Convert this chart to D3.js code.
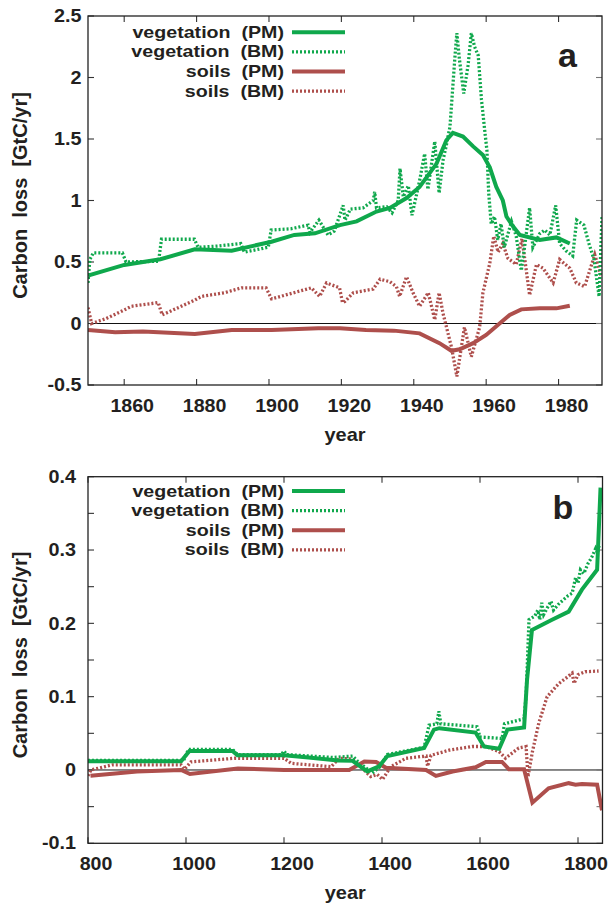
<!DOCTYPE html>
<html><head><meta charset="utf-8">
<script src="https://cdn.jsdelivr.net/npm/d3@7"></script>
<style>
html,body{margin:0;padding:0;background:#fff;}
svg{display:block;}
text{font-family:"Liberation Sans",Arial,Helvetica,sans-serif;font-weight:bold;fill:#231f20;white-space:pre;}
</style></head>
<body>
<script>
// ---------- DATA ----------
const seriesNames = ["vegetation  (PM)", "vegetation  (BM)", "soils  (PM)", "soils  (BM)"];
const panelLetters = ["a", "b"];
const yTitle = "Carbon  loss  [GtC/yr]";
const xTitle = "year";

// panel a
const aXTicks = [1860, 1880, 1900, 1920, 1940, 1960, 1980];
const aYTicks = [-0.5, 0, 0.5, 1, 1.5, 2, 2.5];
const aYLabels = ["-0.5", "0", "0.5", "1", "1.5", "2", "2.5"];
const aVegPM = [[1850,0.39],[1860,0.476],[1870,0.522],[1879.5,0.603],[1889.7,0.592],[1900.7,0.665],[1907,0.72],[1912.7,0.733],[1919.6,0.80],[1924.2,0.83],[1929.7,0.91],[1933.4,0.94],[1938,1.02],[1941.6,1.11],[1946.3,1.30],[1949,1.49],[1950.8,1.55],[1953.6,1.52],[1956.4,1.44],[1959.1,1.37],[1961,1.27],[1962.8,1.11],[1964.6,1.00],[1965.6,0.87],[1967.4,0.79],[1969.3,0.72],[1974.8,0.68],[1979.4,0.70],[1983.1,0.65]];
const aVegBM = [[1850,0.33],[1850.5,0.52],[1851.5,0.575],[1859.5,0.575],[1860.5,0.50],[1869.5,0.506],[1870.3,0.685],[1879.4,0.685],[1880.4,0.62],[1886,0.63],[1892.2,0.65],[1893.2,0.58],[1899.8,0.62],[1900.6,0.76],[1906,0.77],[1910.8,0.80],[1911.3,0.74],[1913.8,0.84],[1916.3,0.72],[1918,0.75],[1920.5,0.96],[1921,0.84],[1922.5,0.93],[1926,0.94],[1928.8,1.0],[1929.2,1.07],[1929.7,0.94],[1932.5,0.95],[1934,0.90],[1935.7,1.0],[1936.2,1.26],[1937.1,1.03],[1938.5,1.12],[1939.5,0.88],[1941.6,1.16],[1943,1.38],[1943.9,1.09],[1945.8,1.48],[1947,1.06],[1948.1,1.33],[1949,1.45],[1950,1.6],[1951.3,2.14],[1951.9,2.36],[1952.6,2.15],[1953.8,1.87],[1955,2.1],[1955.9,2.36],[1956.8,2.25],[1957.8,2.18],[1958.7,1.82],[1959.6,1.57],[1960.2,1.41],[1960.7,1.06],[1961.4,0.81],[1962.3,0.87],[1963.2,0.68],[1964.1,0.81],[1965,0.62],[1967,0.83],[1968.3,0.71],[1969.7,0.43],[1970.6,0.62],[1972,0.94],[1972.9,0.62],[1974.8,0.73],[1976.2,0.76],[1977.6,0.72],[1979.2,0.96],[1980.3,0.65],[1982.1,0.59],[1983.9,0.55],[1985,0.84],[1987,0.80],[1988.4,0.65],[1989.8,0.52],[1991.2,0.22],[1992,0.87]];
const aSoilPM = [[1850,-0.053],[1857.5,-0.072],[1865.2,-0.066],[1879.5,-0.085],[1889.7,-0.053],[1900.7,-0.053],[1913.6,-0.039],[1919.6,-0.039],[1926.8,-0.053],[1934.5,-0.058],[1941.6,-0.08],[1947.1,-0.16],[1950.4,-0.222],[1952.7,-0.21],[1956.4,-0.16],[1960,-0.093],[1963.7,0.0],[1966.5,0.069],[1969.7,0.115],[1974.8,0.123],[1979.4,0.123],[1983.1,0.145]];
const aSoilBM = [[1850,0.13],[1851,0.0],[1855,0.04],[1860,0.11],[1862,0.14],[1869.4,0.17],[1870.5,0.07],[1879.5,0.19],[1881.3,0.22],[1887.7,0.25],[1892.4,0.29],[1899.2,0.29],[1900.7,0.20],[1904.4,0.23],[1911.7,0.29],[1914,0.22],[1915.9,0.33],[1919.5,0.29],[1920.3,0.17],[1921,0.18],[1923.3,0.25],[1928.8,0.28],[1930.7,0.36],[1933.4,0.34],[1935.2,0.30],[1936.1,0.22],[1938,0.38],[1939.8,0.25],[1941.6,0.14],[1944,0.25],[1945.8,0.03],[1947,0.25],[1948.1,0.08],[1950.4,-0.19],[1951.9,-0.43],[1954,-0.03],[1955.9,-0.27],[1958.2,-0.03],[1959.1,0.25],[1961,0.49],[1962.1,0.71],[1963.3,0.58],[1964.6,0.65],[1966,0.53],[1968.3,0.48],[1969.9,0.69],[1972,0.23],[1973.9,0.48],[1975.7,0.45],[1978.5,0.33],[1980.3,0.52],[1983.1,0.45],[1984.9,0.33],[1987.2,0.30],[1990,0.56],[1991.8,0.38]];

// panel b
const bXTicks = [800, 1000, 1200, 1400, 1600, 1800];
const bYTicks = [-0.1, 0, 0.1, 0.2, 0.3, 0.4];
const bYLabels = ["-0.1", "0", "0.1", "0.2", "0.3", "0.4"];
const bYMinor = [-0.05, 0.05, 0.15, 0.25, 0.35];
const bVegPM = [[800,0.012],[990,0.012],[1007,0.026],[1095,0.026],[1105,0.02],[1200,0.02],[1250,0.017],[1310,0.013],[1340,0.0125],[1370,-0.002],[1394,0.005],[1411,0.019],[1486,0.03],[1506,0.055],[1517,0.057],[1591,0.051],[1608,0.032],[1639,0.029],[1656,0.055],[1690,0.058],[1696,0.123],[1706,0.191],[1747,0.205],[1781,0.216],[1808,0.246],[1839,0.273],[1846,0.385]];
const bVegBM = [[800,0.013],[995,0.013],[1005,0.028],[1095,0.028],[1105,0.021],[1195,0.021],[1200,0.026],[1205,0.021],[1300,0.017],[1340,0.019],[1350,0.012],[1380,-0.004],[1395,0.004],[1411,0.021],[1486,0.031],[1496,0.061],[1512,0.063],[1516,0.08],[1520,0.063],[1594,0.059],[1600,0.045],[1645,0.043],[1650,0.063],[1690,0.07],[1694,0.1],[1700,0.205],[1712,0.21],[1718,0.218],[1722,0.205],[1726,0.228],[1730,0.212],[1738,0.222],[1745,0.23],[1750,0.218],[1760,0.226],[1770,0.232],[1780,0.238],[1788,0.241],[1795,0.262],[1800,0.255],[1805,0.273],[1812,0.268],[1820,0.281],[1828,0.29],[1836,0.302],[1840,0.296],[1843,0.306]];
const bSoilPM = [[805,-0.008],[900,-0.002],[990,0.0],[1008,-0.0055],[1106,0.002],[1200,0.0],[1333,0.0],[1364,0.0114],[1388,0.011],[1408,0.003],[1490,0.0],[1510,-0.008],[1544,-0.002],[1591,0.0036],[1612,0.011],[1645,0.011],[1659,0.001],[1690,0.001],[1707,-0.0446],[1740,-0.025],[1781,-0.018],[1795,-0.02],[1808,-0.019],[1839,-0.02],[1849,-0.055]];
const bSoilBM = [[800,-0.008],[806,0.0],[850,0.007],[990,0.007],[997,0.001],[1010,0.011],[1099,0.016],[1200,0.016],[1215,0.009],[1296,0.0045],[1313,0.016],[1340,0.015],[1377,-0.009],[1390,-0.006],[1401,-0.013],[1418,0.0045],[1449,0.016],[1490,0.019],[1493,0.005],[1500,0.02],[1516,0.023],[1537,0.027],[1584,0.032],[1612,0.032],[1639,0.025],[1652,0.016],[1679,0.03],[1694,0.032],[1698,-0.009],[1707,0.025],[1720,0.064],[1737,0.1],[1761,0.118],[1775,0.125],[1788,0.132],[1792,0.118],[1800,0.13],[1815,0.134],[1842,0.135]];

// ---------- STYLE ----------
const GREEN = "#0fa84c", RED = "#ae4f4c";
const W = 609, H = 904;
const svg = d3.select("body").append("svg").attr("width", W).attr("height", H);

function txt(g, x, y, s, o) {
  o = o || {};
  return g.append("text")
    .attr("transform", `translate(${x},${y}) rotate(${o.rot || 0}) scale(${o.sx || 1},1)`)
    .attr("text-anchor", o.anchor || "middle")
    .attr("dominant-baseline", o.base || "auto")
    .style("font-size", (o.size || 18) + "px")
    .text(s);
}

function panel(cfg) {
  const x = d3.scaleLinear().domain(cfg.xDom).range([cfg.left, cfg.right]);
  const y = d3.scaleLinear().domain(cfg.yDom).range([cfg.bottom, cfg.top]);
  const g = svg.append("g");
  const cid = "clip" + cfg.letter;
  svg.append("defs").append("clipPath").attr("id", cid).append("rect")
    .attr("x", cfg.left).attr("y", cfg.top).attr("width", cfg.right - cfg.left).attr("height", cfg.bottom - cfg.top);

  // zero line
  g.append("line").attr("x1", cfg.left).attr("x2", cfg.right).attr("y1", y(0)).attr("y2", y(0))
    .attr("stroke", "#111").attr("stroke-width", 1);

  // ticks (mirrored, inward)
  const TL = 6;
  const tk = g.append("g").attr("stroke", "#333").attr("stroke-width", 1.1);
  cfg.xTicks.forEach(v => {
    tk.append("line").attr("x1", x(v)).attr("x2", x(v)).attr("y1", cfg.bottom).attr("y2", cfg.bottom - TL);
    tk.append("line").attr("x1", x(v)).attr("x2", x(v)).attr("y1", cfg.top).attr("y2", cfg.top + TL);
  });
  cfg.yTicks.concat(cfg.yMinor || []).forEach(v => {
    tk.append("line").attr("x1", cfg.left).attr("x2", cfg.left + TL).attr("y1", y(v)).attr("y2", y(v));
    tk.append("line").attr("x1", cfg.right).attr("x2", cfg.right - TL).attr("y1", y(v)).attr("y2", y(v)).attr("stroke", "#777");
  });

  // data lines
  const line = d3.line().x(d => x(d[0])).y(d => y(d[1]));
  const dg = g.append("g").attr("clip-path", `url(#${cid})`).attr("fill", "none");
  const sets = [
    {d: cfg.soilBM, c: RED, dash: true},
    {d: cfg.vegBM, c: GREEN, dash: true},
    {d: cfg.soilPM, c: RED, dash: false},
    {d: cfg.vegPM, c: GREEN, dash: false}
  ];
  sets.forEach(s => {
    dg.append("path").datum(s.d).attr("d", line)
      .attr("stroke", s.c)
      .attr("stroke-width", s.dash ? 3.3 : 4)
      .attr("stroke-dasharray", s.dash ? "2,2" : null)
      .attr("stroke-linejoin", "miter").attr("stroke-miterlimit", 4);
  });

  // frame
  g.append("rect").attr("x", cfg.left).attr("y", cfg.top)
    .attr("width", cfg.right - cfg.left).attr("height", cfg.bottom - cfg.top)
    .attr("fill", "none").attr("stroke", "#222").attr("stroke-width", 1.3);

  // tick labels
  cfg.xTicks.forEach(v => txt(g, x(v) + 8, cfg.bottom + 26.5, String(v), {size: 18, sx: 1.09}));
  cfg.yTicks.forEach((v, i) => txt(g, cfg.yLabRight, y(v), cfg.yLabels[i], {size: 18, sx: 1.1, anchor: "end", base: "central"}));

  // axis titles
  txt(g, (cfg.left + cfg.right) / 2, cfg.bottom + 55.5, xTitle, {size: 19, sx: 1.05});
  txt(g, 27, (cfg.top + cfg.bottom) / 2 - 5, yTitle, {size: 20, rot: -90});

  // panel letter
  txt(g, cfg.letterX, cfg.letterY, cfg.letter, {size: 34});

  // legend
  const legStyles = [{c: GREEN, dash: false}, {c: GREEN, dash: true}, {c: RED, dash: false}, {c: RED, dash: true}];
  seriesNames.forEach((n, i) => {
    const ly = cfg.legY + i * 19.6;
    txt(g, 284, ly + 5.5, n, {size: 16.5, sx: 1.19, anchor: "end"});
    g.append("line").attr("x1", 292).attr("x2", 345).attr("y1", ly).attr("y2", ly)
      .attr("stroke", legStyles[i].c)
      .attr("stroke-width", legStyles[i].dash ? 3.3 : 4)
      .attr("stroke-dasharray", legStyles[i].dash ? "2,2" : null);
  });
}

panel({letter: panelLetters[0], xDom: [1850, 1992], yDom: [-0.5, 2.5], left: 88, right: 602, top: 16, bottom: 385,
  xTicks: aXTicks, yTicks: aYTicks, yLabels: aYLabels, yLabRight: 81.5,
  vegPM: aVegPM, vegBM: aVegBM, soilPM: aSoilPM, soilBM: aSoilBM,
  letterX: 567.5, letterY: 66.5, legY: 32.3});

panel({letter: panelLetters[1], xDom: [800, 1850], yDom: [-0.1, 0.4], left: 88, right: 602.5, top: 476.7, bottom: 843.3,
  xTicks: bXTicks, yTicks: bYTicks, yLabels: bYLabels, yMinor: bYMinor, yLabRight: 76,
  vegPM: bVegPM, vegBM: bVegBM, soilPM: bSoilPM, soilBM: bSoilBM,
  letterX: 563, letterY: 519.3, legY: 491});
</script>
</body></html>
